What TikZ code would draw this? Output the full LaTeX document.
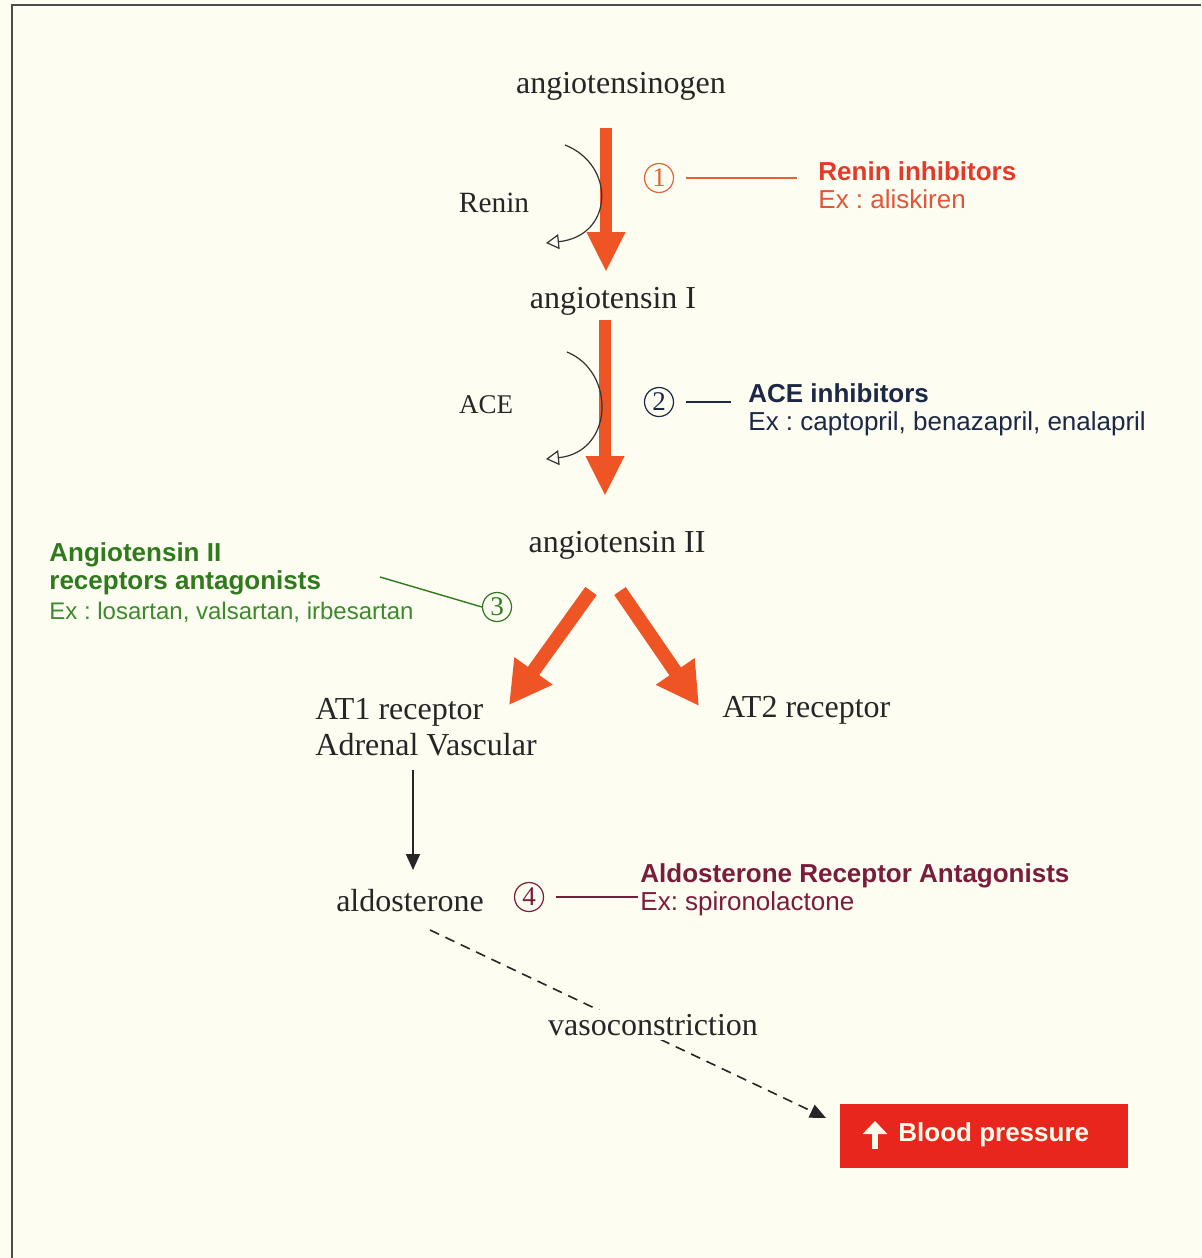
\documentclass[tikz,border=0pt]{standalone}
\usepackage{fontspec}
\setmainfont{Liberation Serif}
\setsansfont{Liberation Sans}
\usetikzlibrary{arrows.meta}
\definecolor{bg}{HTML}{FDFDF1}
\definecolor{arrowred}{HTML}{EF5424}
\definecolor{reninred}{HTML}{E33A2A}
\definecolor{reninex}{HTML}{E0563A}
\definecolor{oneline}{HTML}{E0662F}
\definecolor{navy}{HTML}{1B2846}
\definecolor{grn}{HTML}{2F7A1C}
\definecolor{grnex}{HTML}{3C8A2C}
\definecolor{maroon}{HTML}{7A1D3C}
\definecolor{bpred}{HTML}{E8261E}
\definecolor{bptext}{HTML}{FFFBEA}
\frenchspacing
\begin{document}
\begin{tikzpicture}[x=0.5pt,y=-0.5pt,
  serif/.style={font=\fontsize{16}{18}\selectfont, inner sep=0pt, text=black!85},
  sanslbl/.style={font=\sffamily\fontsize{13}{15}\selectfont, inner sep=0pt, anchor=west, align=left},
  numc/.style={circle, draw, line width=0.6pt, minimum size=14.5pt, inner sep=0pt, font=\fontsize{13.5}{13.5}\selectfont},
  bigarrow/.style={draw=arrowred, line width=6pt, -{Triangle[length=20pt,width=18pt,fill=arrowred]}},
  diagarrow/.style={draw=arrowred, line width=7pt, -{Triangle[length=21pt,width=22pt,fill=arrowred]}},
  curvarrow/.style={draw=black!80, line width=0.6pt, -{Triangle[open,length=6.5pt,width=7.5pt]}},
]
\fill[bg] (0,0) rectangle (1201,1258);
\useasboundingbox (0,0) rectangle (1201,1258);
\draw[line width=1.4pt, black!70] (12,1258) -- (12,5) -- (1201,5);

% main chain
\node[serif] (ago) at (621,86) {angiotensinogen};
\node[serif] (a1) at (613,301) {angiotensin I};
\node[serif] (a2) at (617,545) {angiotensin II};
\node[serif, anchor=west, align=left, font=\fontsize{16}{18}\selectfont] (at1) at (315,727) {AT1 receptor\\Adrenal Vascular};
\node[serif, anchor=west] (at2) at (722,710) {AT2 receptor};
\node[serif] (ald) at (410,901) {aldosterone};
\node[serif, font=\fontsize{14.7}{16}\selectfont] (renin) at (494,203) {Renin};
\node[serif, font=\fontsize{13.5}{15}\selectfont] (ace) at (486,405) {ACE};

% red arrows
\coordinate (r1s) at (606,128);
\coordinate (r1e) at (606,272);
\coordinate (r2s) at (605,320);
\coordinate (r2e) at (605,496);
\coordinate (d1s) at (591,591);
\coordinate (d1e) at (509,705);
\coordinate (d2s) at (620,591);
\coordinate (d2e) at (699,706);
\draw[bigarrow] (r1s) -- (r1e);
\draw[bigarrow] (r2s) -- (r2e);
\draw[diagarrow] (d1s) -- (d1e);
\draw[diagarrow] (d2s) -- (d2e);

% curved enzyme arrows
\coordinate (c1s) at (565,145);
\coordinate (c1e) at (546,243);
\coordinate (c2s) at (567,352);
\coordinate (c2e) at (546,459);
\draw[curvarrow] (c1s) .. controls (616,165) and (614,236) .. (c1e);
\draw[curvarrow] (c2s) .. controls (616,372) and (614,452) .. (c2e);

% inhibitor 1
\node[numc, draw=oneline, text=oneline] (n1) at (659,178) {1};
\node[sanslbl] (rinh) at (818,185) {\textcolor{reninred}{\bfseries Renin inhibitors}\\[-1pt]\textcolor{reninex}{Ex : aliskiren}};
\coordinate (l1e) at (797,178);
\draw[oneline, line width=0.7pt] (n1.east) ++(12,0) -- (l1e);

% inhibitor 2
\node[numc, draw=navy, text=navy] (n2) at (659,402) {2};
\node[sanslbl, text=navy] (ainh) at (748,410) {\bfseries ACE inhibitors\\[-1pt]Ex : captopril, benazapril, enalapril};
\coordinate (l2e) at (731,402);
\draw[navy, line width=0.7pt] (n2.east) ++(12,0) -- (l2e);

% inhibitor 3
\node[numc, draw=grn, text=grn] (n3) at (497,607) {3};
\node[sanslbl, text=grn] (arb) at (49,569) {\bfseries Angiotensin II\\[-1pt]\bfseries receptors antagonists};
\node[sanslbl, text=grnex, font=\sffamily\fontsize{12}{14}\selectfont] (arbex) at (49,612) {Ex : losartan, valsartan, irbesartan};
\coordinate (l3s) at (380,577);
\draw[grn, line width=0.7pt] (l3s) -- (n3.west);

% inhibitor 4
\node[numc, draw=maroon, text=maroon] (n4) at (529,897) {4};
\node[sanslbl, text=maroon] (ara) at (640,890) {\bfseries Aldosterone Receptor Antagonists\\[-1pt]Ex: spironolactone};
\coordinate (l4e) at (638,897);
\draw[maroon, line width=0.7pt] (n4.east) ++(12,0) -- (l4e);

% aldosterone path
\coordinate (k1s) at (413,770);
\coordinate (k1e) at (413,870);
\draw[black!85, line width=0.9pt, -{Triangle[length=8pt,width=7pt]}] (k1s) -- (k1e);

% blood pressure box
\node[fill=bpred, minimum width=144pt, minimum height=32pt, inner sep=0pt] (bp) at (984,1136) {};
\node[anchor=west, inner sep=0pt, text=bptext, font=\sffamily\bfseries\fontsize{13}{15}\selectfont] (bptxt) at (898,1135) {Blood pressure};
\coordinate (upb) at (875,1149);
\coordinate (upt) at (875,1121);
\draw[bptext, line width=3pt, -{Triangle[length=6.5pt,width=12pt,fill=bptext]}] (upb) -- (upt);

% dashed vasoconstriction path
\coordinate (dsh) at (430,930);
\coordinate (dte) at (826,1118);
\draw[black!85, line width=0.8pt, dash pattern=on 5pt off 3.5pt, -{Triangle[length=8pt,width=7pt]}] (dsh) -- (dte);
\node[serif, fill=bg, inner ysep=2pt, inner xsep=0pt] (vaso) at (653,1025) {vasoconstriction};
\end{tikzpicture}
\end{document}
